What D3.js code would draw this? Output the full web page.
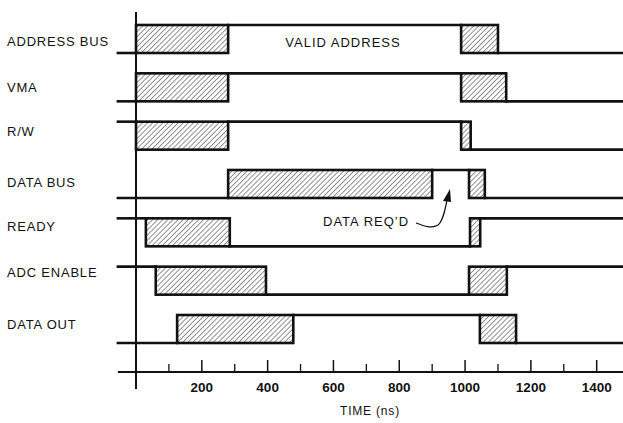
<!DOCTYPE html>
<html><head><meta charset="utf-8">
<script src="https://cdn.jsdelivr.net/npm/d3@7"></script>
<style>
html,body{margin:0;padding:0;background:#fff;}
svg{display:block;font-family:"Liberation Sans",Arial,Helvetica,sans-serif;}
</style></head>
<body><svg id="c" width="623" height="423"></svg>
<script>
// ---- data ----
const signals = ["ADDRESS BUS","VMA","R/W","DATA BUS","READY","ADC ENABLE","DATA OUT"];
const startLevel = ["low","low","high","low","high","high","low"];
// hatched (don't care / changing) intervals, ns
const hatchFrom = [[0,988],[0,988],[0,988],[280,1012],[30,1015],[60,1012],[125,1045]];
const hatchTo   = [[280,1100],[280,1125],[280,1017],[900,1060],[285,1046],[395,1127],[478,1155]];
// level after each hatched interval
const levelAfter = [["high","low"],["high","low"],["high","low"],["high","low"],["low","high"],["low","high"],["high","low"]];
const tStart = -55, tEnd = 1480;
const majorTicks = [200,400,600,800,1000,1200,1400];
const minorTicks = [100,300,500,700,900,1100,1300,1500];
const labelOffsets = [2,0,-4,-2,-6,-8,-5];

const svg = d3.select("#c");
const x = d3.scaleLinear().domain([0,1400]).range([136,596.7]);
const row = d3.scalePoint().domain(signals).range([25,315]);
const swing = 28;
const lvl = (s,l) => l === "high" ? row(s) : row(s) + swing;

const defs = svg.append("defs");
const pat = defs.append("pattern").attr("id","hatch").attr("patternUnits","userSpaceOnUse")
  .attr("width",3.6).attr("height",3.6).attr("patternTransform","rotate(45)");
pat.append("line").attr("x1",0).attr("y1",0).attr("x2",0).attr("y2",3.6)
  .attr("stroke","#222").attr("stroke-width",1);

// axes
const axisY = 372;
svg.append("line").attr("x1",x(0)).attr("x2",x(0)).attr("y1",12).attr("y2",389)
  .attr("stroke","#111").attr("stroke-width",2);
svg.append("line").attr("x1",x(tStart)).attr("x2",623).attr("y1",axisY).attr("y2",axisY)
  .attr("stroke","#111").attr("stroke-width",2);
svg.selectAll(".maj").data(majorTicks).join("line")
  .attr("x1",d=>x(d)).attr("x2",d=>x(d)).attr("y1",axisY-12).attr("y2",axisY)
  .attr("stroke","#111").attr("stroke-width",1.5);
svg.selectAll(".min").data(minorTicks).join("line")
  .attr("x1",d=>x(d)).attr("x2",d=>x(d)).attr("y1",axisY-8).attr("y2",axisY)
  .attr("stroke","#111").attr("stroke-width",1.3);
svg.selectAll(".tl").data(majorTicks).join("text")
  .attr("x",d=>x(d)).attr("y",392).attr("text-anchor","middle")
  .attr("font-size",13.5).attr("font-weight","bold").attr("fill","#111").text(d=>d);
svg.append("text").attr("x",370).attr("y",415).attr("text-anchor","middle")
  .attr("font-size",12).attr("letter-spacing",0.8).attr("fill","#111").text("TIME (ns)");

// signals
signals.forEach((s,i)=>{
  const g = svg.append("g");
  const segs = [];
  segs.push([tStart, hatchFrom[i][0], startLevel[i]]);
  segs.push([hatchTo[i][0], hatchFrom[i][1], levelAfter[i][0]]);
  segs.push([hatchTo[i][1], tEnd, levelAfter[i][1]]);
  segs.forEach(([a,b,l])=>{
    g.append("line").attr("x1",x(a)).attr("x2",x(b)).attr("y1",lvl(s,l)).attr("y2",lvl(s,l))
      .attr("stroke","#111").attr("stroke-width",2.6).attr("stroke-linecap","square");
  });
  hatchFrom[i].forEach((a,k)=>{
    const b = hatchTo[i][k];
    g.append("rect").attr("x",x(a)).attr("y",row(s)).attr("width",x(b)-x(a)).attr("height",swing)
      .attr("fill","url(#hatch)").attr("stroke","#111").attr("stroke-width",2.6);
  });
  svg.append("text").attr("x",7).attr("y",row(s)+swing/2+4.6+labelOffsets[i])
    .attr("font-size",13).attr("letter-spacing",0.8).attr("fill","#111").text(s);
});

// annotations
svg.append("text").attr("x",343).attr("y",47).attr("text-anchor","middle")
  .attr("font-size",13).attr("letter-spacing",1).attr("fill","#111").text("VALID ADDRESS");
svg.append("text").attr("x",323).attr("y",226)
  .attr("font-size",13).attr("letter-spacing",1).attr("fill","#111").text("DATA REQ\u2019D");
svg.append("path").attr("d","M416,223 C424,226 432,229 438,225 C443,221 445,210 447,200")
  .attr("fill","none").attr("stroke","#111").attr("stroke-width",1.2);
svg.append("path").attr("d","M450,189 L443,201 L451,202 Z").attr("fill","#111");
</script></body></html>
